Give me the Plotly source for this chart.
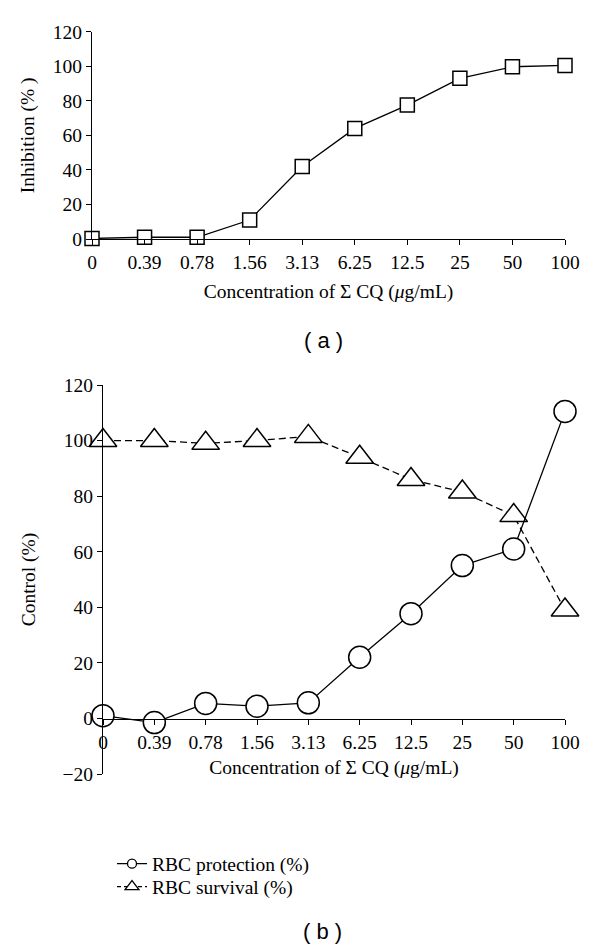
import plotly.graph_objects as go

# ---- data ----
categories = ["0", "0.39", "0.78", "1.56", "3.13", "6.25", "12.5", "25", "50", "100"]
inhibition = [0.3, 1, 1, 11, 42, 64, 77.5, 93, 99.7, 100.5]
rbc_protection = [1, -1.5, 5.4, 4.4, 5.6, 22, 37.7, 55, 61, 110.5]
rbc_survival = [100, 100, 99, 100, 101.5, 94, 86, 81.5, 73, 39]

y_ticks_a = [0, 20, 40, 60, 80, 100, 120]
y_ticks_b = [-20, 0, 20, 40, 60, 80, 100, 120]

x_title = "Concentration of Σ CQ (<i>μ</i>g/mL)"

OFF = 8                        # page body margin
W, H = 600 - 2 * OFF, 947 - OFF
SERIF = "Liberation Serif"
SANS = "Liberation Sans"
TICK_SIZE = 19.5
TITLE_SIZE = 19.5


def fx(px):
    return (px - OFF) / W


def fy(px):
    return 1 - (px - OFF) / H


fig = go.Figure()

# Panel (a)
fig.add_trace(go.Scatter(
    x=categories, y=inhibition, mode="lines+markers",
    line=dict(color="black", width=1.3),
    marker=dict(symbol="square", size=14, color="white", line=dict(color="black", width=1.5)),
    xaxis="x", yaxis="y", showlegend=False, cliponaxis=False,
))

# Panel (b)
fig.add_trace(go.Scatter(
    x=categories, y=rbc_survival, mode="lines+markers",
    line=dict(color="black", width=1.3, dash="7px,4px"),
    marker=dict(symbol="triangle-up", size=24, color="white", line=dict(color="black", width=1.5)),
    xaxis="x2", yaxis="y2", showlegend=False, cliponaxis=False,
))
fig.add_trace(go.Scatter(
    x=categories, y=rbc_protection, mode="lines+markers",
    line=dict(color="black", width=1.3),
    marker=dict(symbol="circle", size=22, color="white", line=dict(color="black", width=1.5)),
    xaxis="x2", yaxis="y2", showlegend=False, cliponaxis=False,
))

# legend entries
fig.add_trace(go.Scatter(
    x=[None], y=[None], mode="lines+markers", name="RBC protection (%)",
    line=dict(color="black", width=1.3),
    marker=dict(symbol="circle", size=9, color="white", line=dict(color="black", width=1.3)),
    xaxis="x2", yaxis="y2", legend="legend",
))
fig.add_trace(go.Scatter(
    x=[None], y=[None], mode="lines+markers", name="RBC survival (%)",
    line=dict(color="black", width=1.3, dash="4px,3px"),
    marker=dict(symbol="triangle-up", size=12, color="white", line=dict(color="black", width=1.3)),
    xaxis="x2", yaxis="y2", legend="legend2",
))

axis_common = dict(
    showline=True, linecolor="black", linewidth=1.3,
    ticks="outside", ticklen=5, tickwidth=1.3, tickcolor="black",
    showgrid=False, zeroline=False, automargin=False,
    tickfont=dict(family=SERIF, size=TICK_SIZE, color="black"),
)

legend_common = dict(
    xanchor="left", yanchor="middle",
    font=dict(family=SERIF, size=TITLE_SIZE, color="black"),
    bgcolor="rgba(0,0,0,0)",
)

fig.update_layout(
    width=W, height=H,
    margin=dict(l=0, r=0, t=0, b=0, autoexpand=False),
    paper_bgcolor="white", plot_bgcolor="rgba(0,0,0,0)",
    font=dict(family=SERIF, size=TITLE_SIZE, color="black"),
    xaxis=dict(
        type="category", range=[0, 9], domain=[fx(92), fx(565)], anchor="y",
        title=dict(text=x_title, font=dict(family=SERIF, size=TITLE_SIZE), standoff=12),
        **axis_common,
    ),
    yaxis=dict(
        range=[0, 120], tickvals=y_ticks_a, domain=[fy(239), fy(31.7)], anchor="x",
        title=dict(text="Inhibition (% )", font=dict(family=SERIF, size=TITLE_SIZE), standoff=12),
        **axis_common,
    ),
    xaxis2=dict(
        type="category", range=[0, 9], domain=[fx(103), fx(565)], anchor="free",
        position=fy(719),
        title=dict(text=x_title, font=dict(family=SERIF, size=TITLE_SIZE), standoff=8),
        **axis_common,
    ),
    yaxis2=dict(
        range=[-20, 120], tickvals=y_ticks_b, domain=[fy(774), fy(385)], anchor="x2",
        title=dict(text="Control (%)", font=dict(family=SERIF, size=TITLE_SIZE), standoff=21),
        **axis_common,
    ),
    legend=dict(x=fx(112), y=fy(864), **legend_common),
    legend2=dict(x=fx(112), y=fy(887), **legend_common),
    annotations=[
        dict(text="( a )", x=fx(323), y=fy(340), xref="paper", yref="paper",
             xanchor="center", yanchor="middle",
             showarrow=False, font=dict(family=SANS, size=22, color="black")),
        dict(text="( b )", x=fx(322), y=fy(931), xref="paper", yref="paper",
             xanchor="center", yanchor="middle",
             showarrow=False, font=dict(family=SANS, size=22, color="black")),
    ],
)

fig.write_html("out.html")
